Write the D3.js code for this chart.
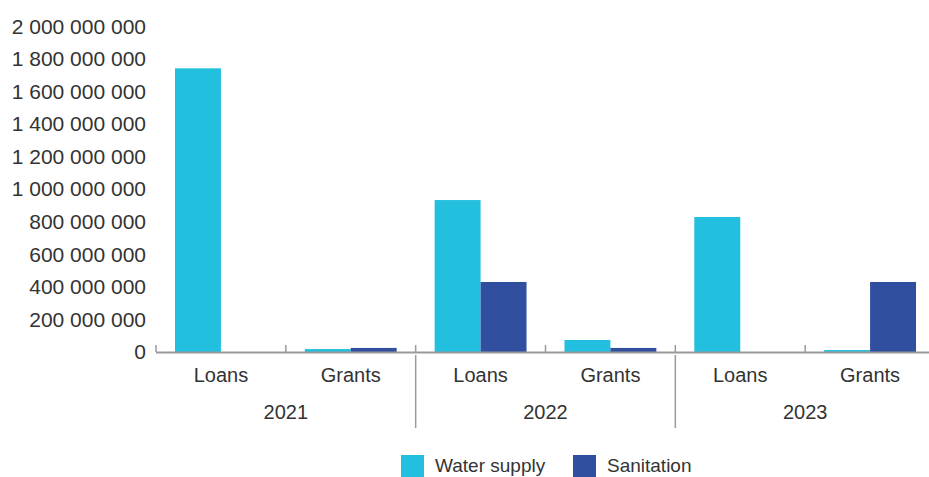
<!DOCTYPE html>
<html>
<head>
<meta charset="utf-8">
<script src="https://cdn.jsdelivr.net/npm/d3@7"></script>
<style>
  html, body { margin: 0; padding: 0; background: #fff; }
  svg { display: block; font-family: "Liberation Sans", Arial, sans-serif; }
</style>
</head>
<body>
<svg id="chart" width="929" height="477"></svg>
<script>
// Financing by year and instrument (EUR)
const years = ["2021", "2022", "2023"];
const instruments = ["Loans", "Grants"];
const seriesNames = ["Water supply", "Sanitation"];
const waterSupply = [1742000000, 18000000, 933000000, 74000000, 829000000, 12000000];
const sanitation  = [0, 25000000, 430000000, 25000000, 0, 430000000];
const yTicks = [0, 200000000, 400000000, 600000000, 800000000, 1000000000,
                1200000000, 1400000000, 1600000000, 1800000000, 2000000000];
const colors = ["#22bfdf", "#314f9f"];

const rows = [];
years.forEach((yr, i) => instruments.forEach((ins, j) => {
  const k = i * instruments.length + j;
  rows.push({ key: yr + "|" + ins, year: yr, instrument: ins,
              values: [waterSupply[k], sanitation[k]] });
}));

const svg = d3.select("#chart");
const plotLeft = 156, plotRight = 935, plotBottom = 352, plotTop = 26.3;
const textColor = "#333333";

const x = d3.scaleBand().domain(rows.map(r => r.key)).range([plotLeft, plotRight]).padding(0);
const xs = d3.scaleBand().domain(seriesNames).range([0, x.bandwidth()])
  .paddingInner(0).paddingOuter(0.413);
const y = d3.scaleLinear().domain([0, 2000000000]).range([plotBottom, plotTop]);

const fmt = v => d3.format(",")(v).replace(/,/g, " ");

// Y axis labels (no axis line)
const yAxis = d3.axisLeft(y).tickValues(yTicks).tickFormat(fmt).tickSize(0).tickPadding(0);
const gy = svg.append("g").attr("transform", `translate(${plotLeft - 10},0)`).call(yAxis);
gy.select(".domain").remove();
gy.selectAll("text").attr("fill", textColor).style("font-size", "21px")
  .attr("font-family", "Liberation Sans, Arial, sans-serif").attr("dy", "0.32em");

// Bars
const groups = svg.append("g").selectAll("g").data(rows).join("g")
  .attr("transform", d => `translate(${x(d.key)},0)`);
groups.selectAll("rect")
  .data(d => d.values.map((v, i) => ({ series: seriesNames[i], value: v, i })))
  .join("rect")
  .attr("x", d => xs(d.series))
  .attr("width", xs.bandwidth())
  .attr("y", d => y(d.value))
  .attr("height", d => plotBottom - y(d.value))
  .attr("fill", d => colors[d.i]);

// Category axis: baseline and small inward ticks at band edges
const axisG = svg.append("g");
axisG.append("line").attr("x1", plotLeft).attr("x2", plotRight)
  .attr("y1", plotBottom + 0.5).attr("y2", plotBottom + 0.5)
  .attr("stroke", "#9a9a9a").attr("stroke-width", 2);
const edges = rows.map(r => x(r.key));
axisG.selectAll("line.tick").data(edges).join("line").attr("class", "tick")
  .attr("x1", d => d).attr("x2", d => d)
  .attr("y1", plotBottom - 7).attr("y2", plotBottom)
  .attr("stroke", "#9a9a9a").attr("stroke-width", 1.5);

// Instrument labels
axisG.selectAll("text.inst").data(rows).join("text").attr("class", "inst")
  .attr("x", d => x(d.key) + x.bandwidth() / 2)
  .attr("y", 375).attr("dy", "0.35em")
  .attr("text-anchor", "middle").attr("fill", textColor).style("font-size", "20px")
  .text(d => d.instrument);

// Year labels and separators
const yearSpan = x.bandwidth() * instruments.length;
axisG.selectAll("text.year").data(years).join("text").attr("class", "year")
  .attr("x", (d, i) => plotLeft + yearSpan * i + yearSpan / 2)
  .attr("y", 411.5).attr("dy", "0.35em")
  .attr("text-anchor", "middle").attr("fill", textColor).style("font-size", "20px")
  .text(d => d);
axisG.selectAll("line.sep").data(years.slice(1)).join("line").attr("class", "sep")
  .attr("x1", (d, i) => plotLeft + yearSpan * (i + 1)).attr("x2", (d, i) => plotLeft + yearSpan * (i + 1))
  .attr("y1", plotBottom + 3).attr("y2", 428)
  .attr("stroke", "#9a9a9a").attr("stroke-width", 1.5);

// Legend
const legendX = [401, 573];
const lg = svg.append("g").selectAll("g").data(seriesNames).join("g")
  .attr("transform", (d, i) => `translate(${legendX[i]},455)`);
lg.append("rect").attr("width", 23).attr("height", 23).attr("fill", (d, i) => colors[i]);
lg.append("text").attr("x", 34).attr("y", 17).attr("fill", textColor)
  .style("font-size", "19px").text(d => d);
</script>
</body>
</html>
